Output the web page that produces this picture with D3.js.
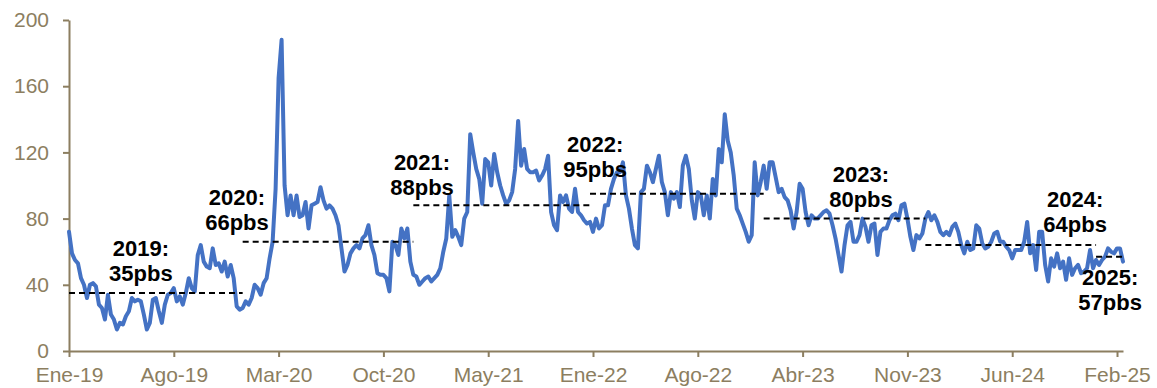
<!DOCTYPE html>
<html>
<head>
<meta charset="utf-8">
<script src="https://cdn.jsdelivr.net/npm/d3@7"></script>
<style>
  html, body { margin: 0; padding: 0; background: #ffffff; }
  svg { display: block; }
</style>
</head>
<body>
<svg id="chart" width="1157" height="388"></svg>
<script>
// Spread in basis points, sampled roughly every 4 business days, one array per year
const spread2019 = [72,59,55,53,44,40,32,40,41,39,28,26,19,34,22,19,13,17,16,21,24,32,30,31,30,22,13,17,31,32,
  24,17,28,34,35,38,30,33,28,35,44,38,36,58,64,54,51,50,62,52,53,48,54,45,52,44,27,25];
const spread2020 = [26,30,28,32,40,38,34,41,44,56,66,98,165,188,100,82,94,82,94,81,82,90,74,88,89,90,99,91,86,88,
  86,82,76,62,48,52,59,62,64,62,68,70,76,64,58,47,46,46,44,36,66,64,58,74,68,74,54];
const spread2021 = [46,45,40,42,44,45,42,44,46,50,60,68,94,69,73,69,64,80,84,131,120,110,104,89,116,114,100,119,108,100,
  94,89,91,96,110,139,112,122,110,108,108,109,103,106,110,118,84,76,73,94,90,94,86,84,98,84,82,79,77];
const spread2022 = [78,72,80,74,76,88,88,98,104,108,108,114,94,86,74,64,62,96,98,112,108,102,110,118,102,96,82,96,92,96,
  87,112,118,110,91,80,96,94,82,94,80,104,94,122,114,143,127,120,106,86,82,77,72,66,70,114,94,102];
const spread2023 = [112,98,114,114,105,96,98,93,91,85,74,84,101,98,84,76,82,80,80,82,84,85,83,76,68,58,48,64,76,78,
  66,66,70,80,75,66,76,77,58,72,74,74,79,82,83,79,88,89,80,69,61,70,68,71];
const spread2024 = [80,84,79,82,78,72,70,72,70,75,77,72,64,59,66,61,62,76,74,65,62,63,66,71,72,66,66,63,61,56,
  61,61,61,66,78,59,64,49,72,72,52,42,56,51,59,50,54,43,56,46,50,52,47,48,50,61,50];
const spread2025 = [55,52,55,57,62,60,59,62,62,54];

const yearSeries = [spread2019, spread2020, spread2021, spread2022, spread2023, spread2024, spread2025];
const years = ["2019", "2020", "2021", "2022", "2023", "2024", "2025"];
const yearAverages = [35, 66, 88, 95, 80, 64, 57];

// Category labels shown every 35 samples along the horizontal axis
const xTickLabels = ["Ene-19","Ago-19","Mar-20","Oct-20","May-21","Ene-22","Ago-22","Abr-23","Nov-23","Jun-24","Feb-25"];
const xTickStep = 35;
const yTicks = [0, 40, 80, 120, 160, 200];

const values = yearSeries.flat();
const yearStart = [];
{
  let acc = 0;
  yearSeries.forEach(s => { yearStart.push(acc); acc += s.length; });
}
const lastIndex = values.length - 1;

const svg = d3.select("#chart");
const axisColor = "#8c7e60";

const x = d3.scaleLinear().domain([0, lastIndex]).range([69, 1123]);
const y = d3.scaleLinear().domain([0, 200]).range([351, 20]);

// Axes
const yAxis = d3.axisLeft(y).tickValues(yTicks).tickSize(6).tickSizeOuter(0).tickPadding(14);
const gy = svg.append("g").attr("transform", `translate(${x(0)},0)`).call(yAxis);

const xAxis = d3.axisBottom(x)
  .tickValues(xTickLabels.map((_, k) => k * xTickStep))
  .tickFormat((d, k) => xTickLabels[k])
  .tickSize(6).tickSizeOuter(0).tickPadding(10);
const gx = svg.append("g").attr("transform", `translate(0,${y(0)})`).call(xAxis);

[gx, gy].forEach(g => {
  g.select(".domain").attr("stroke", axisColor).attr("stroke-width", 2);
  g.selectAll(".tick line").attr("stroke", axisColor).attr("stroke-width", 2);
  g.selectAll(".tick text")
    .attr("fill", axisColor)
    .style("font-family", "'Liberation Sans', Arial, sans-serif")
    .style("font-size", "21px");
});

// Spread series
svg.append("path")
  .datum(values)
  .attr("fill", "none")
  .attr("stroke", "#4472c4")
  .attr("stroke-width", 4)
  .attr("stroke-linejoin", "round")
  .attr("stroke-linecap", "round")
  .attr("d", d3.line().x((d, i) => x(i)).y(d => y(d)));

// Yearly average segments
const segments = years.map((yr, k) => ({
  from: yearStart[k],
  to: k + 1 < years.length ? yearStart[k + 1] : lastIndex,
  avg: yearAverages[k]
}));

svg.append("g").selectAll("line")
  .data(segments)
  .join("line")
  .attr("x1", d => x(d.from))
  .attr("x2", d => x(d.to))
  .attr("y1", d => y(d.avg))
  .attr("y2", d => y(d.avg))
  .attr("stroke", "#000")
  .attr("stroke-width", 2)
  .attr("stroke-dasharray", "6,4");

// Annotation anchors (sample index, value) for the second text line of each label
const labelAnchors = [
  [24.0, 42.3], [56.1, 73.4], [117.9, 94.3], [175.7, 105.1], [264.5, 87.0], [336.0, 71.9], [347.7, 24.8]
];

const labels = svg.append("g")
  .style("font-family", "'Liberation Sans', Arial, sans-serif")
  .style("font-weight", "bold")
  .style("font-size", "22px")
  .attr("fill", "#000")
  .attr("text-anchor", "middle");

years.forEach((yr, k) => {
  const [ai, av] = labelAnchors[k];
  const t = labels.append("text").attr("x", x(ai)).attr("y", y(av));
  t.append("tspan").attr("x", x(ai)).attr("dy", -25).text(`${yr}:`);
  t.append("tspan").attr("x", x(ai)).attr("dy", 25).text(`${yearAverages[k]}pbs`);
});
</script>
</body>
</html>
